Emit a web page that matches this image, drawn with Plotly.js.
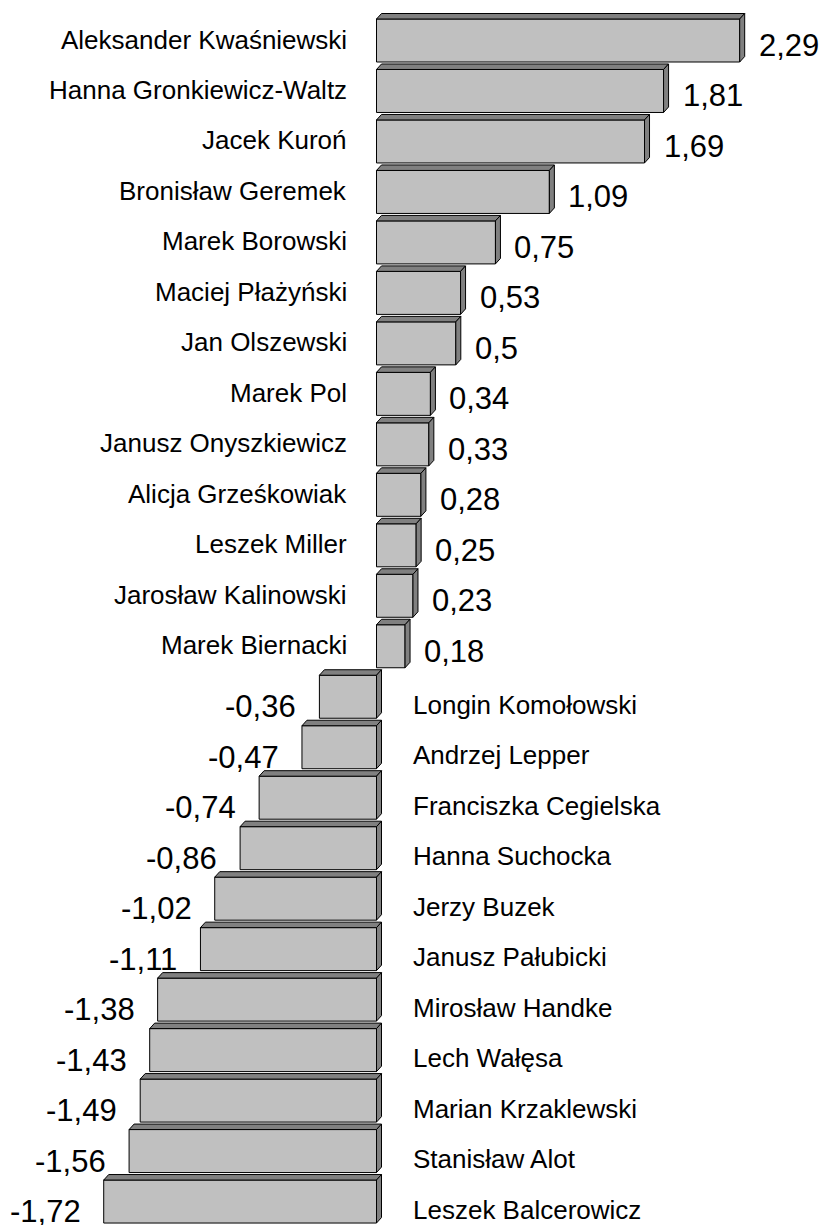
<!DOCTYPE html>
<html>
<head>
<meta charset="utf-8">
<script src="https://cdn.plot.ly/plotly-3.0.1.min.js"></script>
<style>html,body{margin:0;padding:0;background:#fff;}#chart{width:823px;height:1225px;}</style>
</head>
<body>
<div id="chart"></div>
<script>
const names = [
  "Aleksander Kwaśniewski","Hanna Gronkiewicz-Waltz","Jacek Kuroń","Bronisław Geremek",
  "Marek Borowski","Maciej Płażyński","Jan Olszewski","Marek Pol","Janusz Onyszkiewicz",
  "Alicja Grześkowiak","Leszek Miller","Jarosław Kalinowski","Marek Biernacki",
  "Longin Komołowski","Andrzej Lepper","Franciszka Cegielska","Hanna Suchocka","Jerzy Buzek",
  "Janusz Pałubicki","Mirosław Handke","Lech Wałęsa","Marian Krzaklewski","Stanisław Alot",
  "Leszek Balcerowicz"
];
const values = [2.29,1.81,1.69,1.09,0.75,0.53,0.5,0.34,0.33,0.28,0.25,0.23,0.18,
  -0.36,-0.47,-0.74,-0.86,-1.02,-1.11,-1.38,-1.43,-1.49,-1.56,-1.72];
const valueLabels = values.map(v => String(v).replace('.', ','));

// layout geometry
const W = 823, H = 1225;
const zeroPx = 376.5, pxPerUnit = 158.6;
const firstCenterPx = 40.5, rowPx = 50.48;
const xRange = [-zeroPx / pxPerUnit, (W - zeroPx) / pxPerUnit];
const yTop = -firstCenterPx / rowPx, yBottom = (H - firstCenterPx) / rowPx;
const barW = 43 / rowPx, h = barW / 2;
const dx = 5 / pxPerUnit, dy = 5.5 / rowPx;

const idx = values.map((v, i) => i);

const topX = [], topY = [], sideX = [], sideY = [];
values.forEach((v, i) => {
  const lo = Math.min(0, v), hi = Math.max(0, v);
  const yt = i - h, yb = i + h;
  topX.push(lo, hi, hi + dx, lo + dx, lo, null);
  topY.push(yt, yt, yt - dy, yt - dy, yt, null);
  sideX.push(hi, hi + dx, hi + dx, hi, hi, null);
  sideY.push(yt, yt - dy, yb - dy, yb, yt, null);
});

const traces = [
  {type: 'bar', orientation: 'h', x: values, y: idx, base: 0, width: barW,
   marker: {color: '#c0c0c0', line: {color: '#000', width: 1}}, hoverinfo: 'skip'},
  {type: 'scatter', mode: 'lines', x: topX, y: topY, fill: 'toself', fillcolor: '#808080',
   line: {color: '#000', width: 1}, hoverinfo: 'skip'},
  {type: 'scatter', mode: 'lines', x: sideX, y: sideY, fill: 'toself', fillcolor: '#808080',
   line: {color: '#000', width: 1}, hoverinfo: 'skip'}
];

const font = 'Arial, "Liberation Sans", sans-serif';
const nameSize = 26, valueSize = 31;
const annotations = [];
values.forEach((v, i) => {
  if (v >= 0) {
    annotations.push({x: 0, y: i, xref: 'x', yref: 'y', text: names[i], showarrow: false,
      xanchor: 'right', yanchor: 'middle', xshift: -28, yshift: 1,
      font: {family: font, size: nameSize, color: '#000'}});
    annotations.push({x: v, y: i, xref: 'x', yref: 'y', text: valueLabels[i], showarrow: false,
      xanchor: 'left', yanchor: 'middle', xshift: 17, yshift: -5,
      font: {family: font, size: valueSize, color: '#000'}});
  } else {
    annotations.push({x: 0, y: i, xref: 'x', yref: 'y', text: names[i], showarrow: false,
      xanchor: 'left', yanchor: 'middle', xshift: 34, yshift: -8,
      font: {family: font, size: nameSize, color: '#000'}});
    annotations.push({x: v, y: i, xref: 'x', yref: 'y', text: valueLabels[i], showarrow: false,
      xanchor: 'right', yanchor: 'middle', xshift: -21, yshift: -10,
      font: {family: font, size: valueSize, color: '#000'}});
  }
});

const layout = {
  width: W, height: H,
  margin: {l: 0, r: 0, t: 0, b: 0, pad: 0},
  paper_bgcolor: '#fff', plot_bgcolor: '#fff',
  showlegend: false, hovermode: false,
  xaxis: {range: xRange, showgrid: false, zeroline: false, showticklabels: false, showline: false, fixedrange: true},
  yaxis: {range: [yBottom, yTop], showgrid: false, zeroline: false, showticklabels: false, showline: false, fixedrange: true},
  annotations: annotations
};

Plotly.newPlot('chart', traces, layout, {displayModeBar: false, staticPlot: true});
</script>
</body>
</html>
